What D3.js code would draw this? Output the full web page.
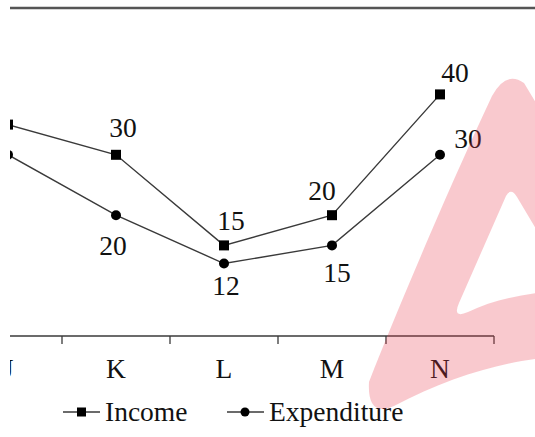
<!DOCTYPE html>
<html><head><meta charset="utf-8">
<script src="https://cdn.jsdelivr.net/npm/d3@7"></script></head>
<body style="margin:0">
<script>
var categories = ["J", "K", "L", "M", "N"];
var income = [35, 30, 15, 20, 40];
var expenditure = [30, 20, 12, 15, 30];
var seriesNames = ["Income", "Expenditure"];

// label nudges (dx, dy) relative to each marker, null = not shown
var incomeLabelPos = [null, [7, -18], [7, -15], [-10, -15], [15, -12]];
var expLabelPos = [null, [-3, 40], [2, 31], [5, 37], [28, -7]];

var width = 535, height = 437;
var fontSize = 27.5;
var lineColor = "#3a3a3a";

function serifText(sel) {
  return sel
    .style("font-family", "'Liberation Serif'")
    .attr("font-size", fontSize)
    .attr("fill", "#111");
}

var svg = d3.select("body").append("svg")
  .attr("width", width)
  .attr("height", height);

svg.append("defs").append("clipPath")
  .attr("id", "crop")
  .append("rect")
  .attr("x", 10).attr("y", 0)
  .attr("width", width - 10).attr("height", height);

var g = svg.append("g").attr("clip-path", "url(#crop)");

var x = d3.scaleBand()
  .domain(categories)
  .range([-46, 494])
  .padding(0);

var y = d3.scaleLinear()
  .domain([0, 50])
  .range([336, 34]);

function cx(d) { return x(d) + x.bandwidth() / 2; }

// top frame line
g.append("line")
  .attr("x1", 0).attr("x2", width)
  .attr("y1", 8).attr("y2", 8)
  .attr("stroke", "#555")
  .attr("stroke-width", 2.5);

// x axis: labels from the band scale, ticks on band edges
var axis = g.append("g")
  .attr("transform", "translate(0," + y(0) + ")")
  .call(d3.axisBottom(x).tickSize(0).tickPadding(22));
axis.attr("font-family", null).attr("font-size", null);
axis.select(".domain")
  .attr("stroke", lineColor)
  .attr("stroke-width", 1.3)
  .attr("d", "M" + x.range()[0] + ",0H" + x.range()[1]);
serifText(axis.selectAll(".tick text"));
axis.selectAll(".bound")
  .data(categories)
  .enter()
  .append("line")
  .attr("x1", function(d) { return x(d) + x.bandwidth(); })
  .attr("x2", function(d) { return x(d) + x.bandwidth(); })
  .attr("y1", 0).attr("y2", 8)
  .attr("stroke", lineColor)
  .attr("stroke-width", 1.3);

var line = d3.line()
  .x(function(d, i) { return cx(categories[i]); })
  .y(function(d) { return y(d); });

function drawSeries(values, shape, labelPos) {
  g.append("path")
    .datum(values)
    .attr("d", line)
    .attr("fill", "none")
    .attr("stroke", lineColor)
    .attr("stroke-width", 1.4);

  if (shape == "square") {
    g.selectAll(null).data(values).enter()
      .append("rect")
      .attr("x", function(d, i) { return cx(categories[i]) - 5; })
      .attr("y", function(d) { return y(d) - 5; })
      .attr("width", 10).attr("height", 10)
      .attr("fill", "#000");
  } else {
    g.selectAll(null).data(values).enter()
      .append("circle")
      .attr("cx", function(d, i) { return cx(categories[i]); })
      .attr("cy", function(d) { return y(d); })
      .attr("r", 5)
      .attr("fill", "#000");
  }

  values.forEach(function(v, i) {
    if (!labelPos[i]) return;
    serifText(g.append("text"))
      .attr("x", cx(categories[i]) + labelPos[i][0])
      .attr("y", y(v) + labelPos[i][1])
      .attr("text-anchor", "middle")
      .text(v);
  });
}

drawSeries(income, "square", incomeLabelPos);
drawSeries(expenditure, "circle", expLabelPos);

// legend
var legend = svg.append("g").attr("transform", "translate(0,412)");
var legendItems = [
  { name: seriesNames[0], shape: "square", x0: 63 },
  { name: seriesNames[1], shape: "circle", x0: 227 }
];
legendItems.forEach(function(it) {
  legend.append("line")
    .attr("x1", it.x0).attr("x2", it.x0 + 37)
    .attr("y1", 0).attr("y2", 0)
    .attr("stroke", lineColor)
    .attr("stroke-width", 1.4);
  if (it.shape == "square") {
    legend.append("rect")
      .attr("x", it.x0 + 14).attr("y", -4.5)
      .attr("width", 9).attr("height", 9)
      .attr("fill", "#000");
  } else {
    legend.append("circle")
      .attr("cx", it.x0 + 18).attr("cy", 0)
      .attr("r", 4.5)
      .attr("fill", "#000");
  }
  serifText(legend.append("text"))
    .attr("x", it.x0 + 42)
    .attr("y", 9)
    .text(it.name);
});

// pink watermark overlay
svg.append("path")
  .attr("fill", "#e8364a")
  .attr("fill-opacity", 0.27)
  .attr("fill-rule", "evenodd")
  .attr("d",
    "M369,382 C401,300 455,175 492,96 Q506,70 524,83 L545,118 L545,358 " +
    "C500,362 447,378 394,406 Q367,418 369,382 Z " +
    "M506,196 Q511,187 517,197 L545,244 L545,292 C518,295 490,301 468,312 " +
    "Q452,319 459,303 Z");
</script>
</body>
</html>
